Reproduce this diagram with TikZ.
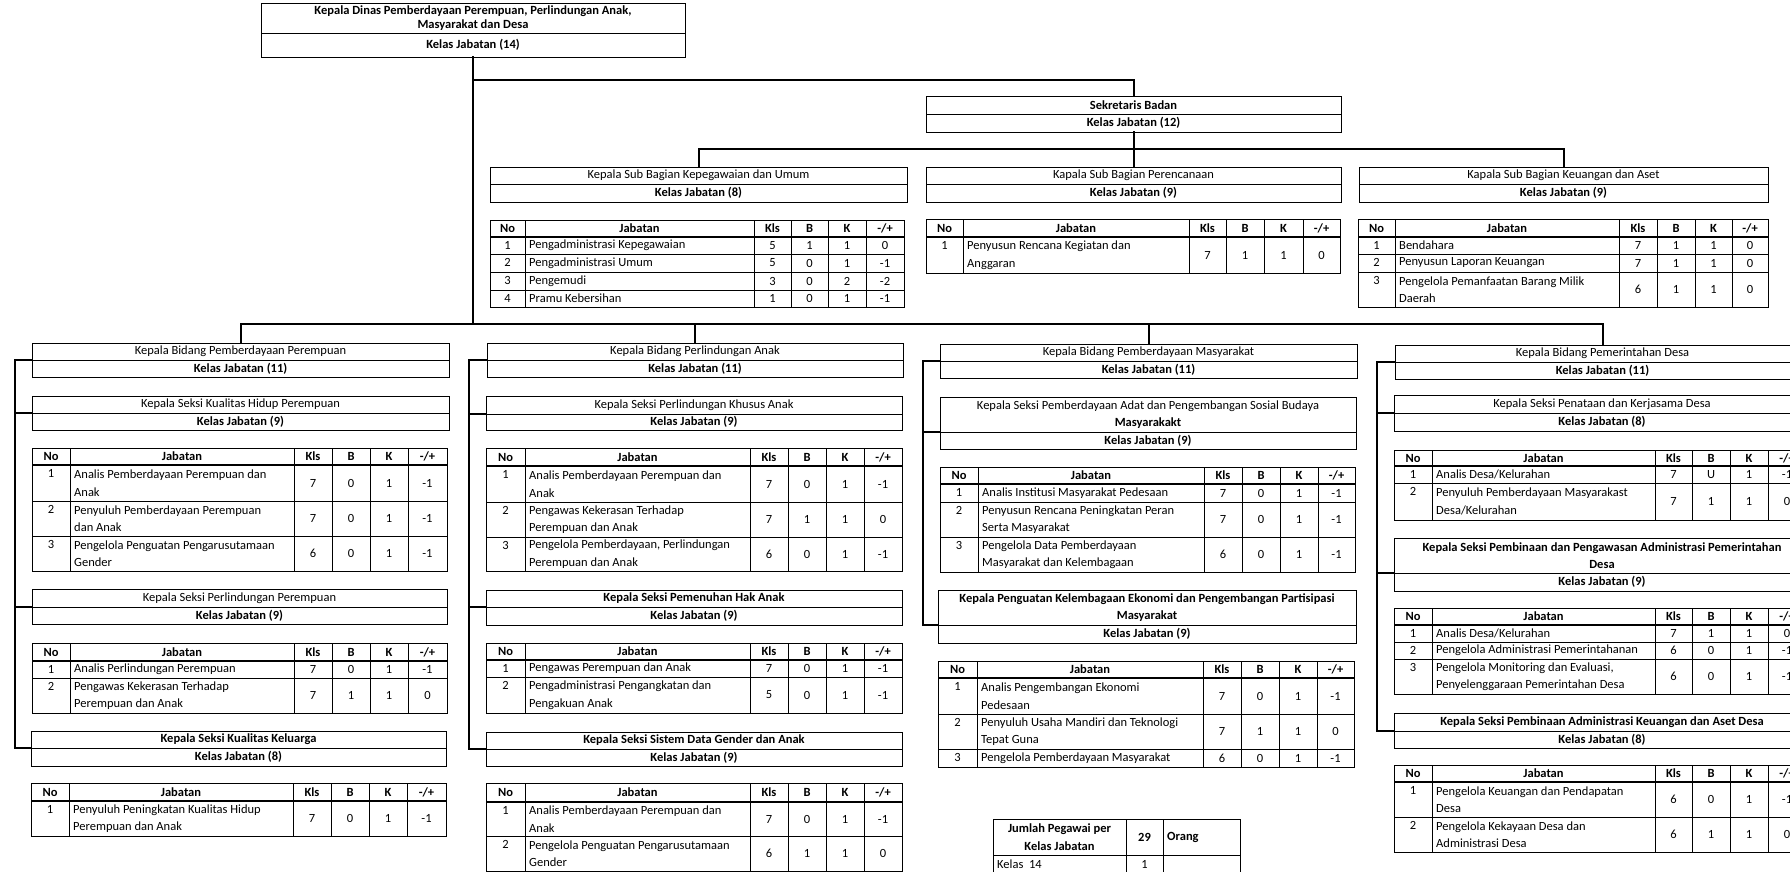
\documentclass[tikz,border=0pt]{standalone}
\usepackage{fontspec}
\setmainfont{Carlito}
\newcount\cellno
\newcommand\fs{\fontsize{12.5}{17.5}\selectfont}
\tikzset{
  conn/.style={line width=2pt,line cap=rect},
  tline/.style={line width=0.8pt},
  cellt/.style={inner sep=0pt,font=\fs},
  bx/.style={draw,line width=0.8pt,inner sep=0pt,align=center,font=\fs},
}
\newcommand\tbox[8]{%
  \node[bx,minimum width={#3pt-#2pt},minimum height={#5pt-#4pt}] (#1-t) at ({(#2+#3)/2},{(#4+#5)/2}) {#7};
  \node[bx,minimum width={#3pt-#2pt},minimum height={#6pt-#5pt}] (#1-k) at ({(#2+#3)/2},{(#5+#6)/2}) {#8};
}
\newcommand\cnode[3][]{\global\advance\cellno by 1 \node[cellt,#1] (c\the\cellno) at #2 {#3};}
\newcommand\setcols[7]{\def\ca{#1}\def\cb{#2}\def\cc{#3}\def\cd{#4}\def\ce{#5}\def\cf{#6}\def\cg{#7}}
\newcommand\vlines[2]{\foreach \xx in {\cb,\cc,\cd,\ce,\cf}{\draw[tline] (\xx,#1) -- (\xx,#2);}}
\newcommand\thead[2]{%
  \draw[tline] (\ca,#1) rectangle (\cg,#2);
  \draw[line width=1.5pt] (\ca,#2) -- (\cg,#2);
  \vlines{#1}{#2}%
  \cnode{({(\ca+\cb)/2},{(#1+#2)/2})}{\bfseries No}%
  \cnode{({(\cb+\cc)/2},{(#1+#2)/2})}{\bfseries Jabatan}%
  \cnode{({(\cc+\cd)/2},{(#1+#2)/2})}{\bfseries Kls}%
  \cnode{({(\cd+\ce)/2},{(#1+#2)/2})}{\bfseries B}%
  \cnode{({(\ce+\cf)/2},{(#1+#2)/2})}{\bfseries K}%
  \cnode{({(\cf+\cg)/2},{(#1+#2)/2})}{\bfseries -/+}%
}
\newcommand\trow[8]{%
  \draw[tline] (\ca,#1) rectangle (\cg,#2);
  \vlines{#1}{#2}%
  \cnode{({(\ca+\cb)/2},{#1+8.75})}{#3}%
  \cnode[anchor=west,align=left]{({\cb+4},{(#1+#2)/2})}{#4}%
  \cnode{({(\cc+\cd)/2},{(#1+#2)/2})}{#5}%
  \cnode{({(\cd+\ce)/2},{(#1+#2)/2})}{#6}%
  \cnode{({(\ce+\cf)/2},{(#1+#2)/2})}{#7}%
  \cnode{({(\cf+\cg)/2},{(#1+#2)/2})}{#8}%
}
\begin{document}
\begin{tikzpicture}[x=1pt,y=-1pt]
\useasboundingbox (0,0) rectangle (1790,871);
\fill[white] (0,0) rectangle (1790,871);
\clip (0,0) rectangle (1790,871);

% ---- top part
\tbox{kadis}{261}{685}{3}{33}{57}{\bfseries Kepala Dinas Pemberdayaan Perempuan, Perlindungan Anak,\\[-4pt]\bfseries Masyarakat dan Desa}{\bfseries Kelas Jabatan (14)}
\tbox{sek}{926}{1341}{96}{114}{132}{\bfseries Sekretaris Badan}{\bfseries Kelas Jabatan (12)}
\tbox{kep}{490}{907}{167}{184}{202}{Kepala Sub Bagian Kepegawaian dan Umum}{\bfseries Kelas Jabatan (8)}
\tbox{per}{926}{1341}{167}{184}{202}{Kapala Sub Bagian Perencanaan}{\bfseries Kelas Jabatan (9)}
\tbox{keu}{1359}{1768}{167}{184}{202}{Kapala Sub Bagian Keuangan dan Aset}{\bfseries Kelas Jabatan (9)}

\setcols{490}{525}{754}{791}{828}{866}{904}
\thead{220}{237}
\trow{237}{254}{1}{Pengadministrasi Kepegawaian}{5}{1}{1}{0}
\trow{254}{272}{2}{Pengadministrasi Umum}{5}{0}{1}{-1}
\trow{272}{290}{3}{Pengemudi}{3}{0}{2}{-2}
\trow{290}{307}{4}{Pramu Kebersihan}{1}{0}{1}{-1}

\setcols{926}{963}{1189}{1226}{1264}{1303}{1340}
\thead{219}{237}
\trow{237}{273}{1}{Penyusun Rencana Kegiatan dan\\Anggaran}{7}{1}{1}{0}

\setcols{1358}{1395}{1619}{1657}{1695}{1732}{1768}
\thead{219}{237}
\trow{237}{254}{1}{Bendahara}{7}{1}{1}{0}
\trow{254}{272}{2}{Penyusun Laporan Keuangan}{7}{1}{1}{0}
\trow{272}{307}{3}{Pengelola Pemanfaatan Barang Milik\\Daerah}{6}{1}{1}{0}

% ---- column 1
\tbox{bid1}{32}{449}{343}{360}{377}{Kepala Bidang Pemberdayaan Perempuan}{\bfseries Kelas Jabatan (11)}
\tbox{s11}{32}{449}{396}{413}{430}{Kepala Seksi Kualitas Hidup Perempuan}{\bfseries Kelas Jabatan (9)}
\setcols{32}{70}{294}{332}{370}{408}{447}
\thead{448}{465}
\trow{465}{501}{1}{Analis Pemberdayaan Perempuan dan\\Anak}{7}{0}{1}{-1}
\trow{501}{536}{2}{Penyuluh Pemberdayaan Perempuan\\dan Anak}{7}{0}{1}{-1}
\trow{536}{571}{3}{Pengelola Penguatan Pengarusutamaan\\Gender}{6}{0}{1}{-1}
\tbox{s12}{32}{447}{589}{607}{624}{Kepala Seksi Perlindungan Perempuan}{\bfseries Kelas Jabatan (9)}
\thead{643}{661}
\trow{661}{678}{1}{Analis Perlindungan Perempuan}{7}{0}{1}{-1}
\trow{678}{713}{2}{Pengawas Kekerasan Terhadap\\Perempuan dan Anak}{7}{1}{1}{0}
\tbox{s13}{31}{446}{731}{748}{766}{\bfseries Kepala Seksi Kualitas Keluarga}{\bfseries Kelas Jabatan (8)}
\setcols{31}{69}{293}{331}{369}{407}{446}
\thead{783}{801}
\trow{801}{836}{1}{Penyuluh Peningkatan Kualitas Hidup\\Perempuan dan Anak}{7}{0}{1}{-1}

% ---- column 2
\tbox{bid2}{487}{903}{343}{360}{377}{Kepala Bidang Perlindungan Anak}{\bfseries Kelas Jabatan (11)}
\tbox{s21}{486}{902}{396}{414}{430}{Kepala Seksi Perlindungan Khusus Anak}{\bfseries Kelas Jabatan (9)}
\setcols{486}{525}{750}{788}{826}{864}{902}
\thead{448}{466}
\trow{466}{502}{1}{Analis Pemberdayaan Perempuan dan\\Anak}{7}{0}{1}{-1}
\trow{502}{537}{2}{Pengawas Kekerasan Terhadap\\Perempuan dan Anak}{7}{1}{1}{0}
\trow{537}{571}{3}{Pengelola Pemberdayaan, Perlindungan\\Perempuan dan Anak}{6}{0}{1}{-1}
\tbox{s22}{486}{902}{590}{607}{625}{\bfseries Kepala Seksi Pemenuhan Hak Anak}{\bfseries Kelas Jabatan (9)}
\thead{643}{660}
\trow{660}{677}{1}{Pengawas Perempuan dan Anak}{7}{0}{1}{-1}
\trow{677}{713}{2}{Pengadministrasi Pengangkatan dan\\Pengakuan Anak}{5}{0}{1}{-1}
\tbox{s23}{486}{902}{732}{749}{766}{\bfseries Kepala Seksi Sistem Data Gender dan Anak}{\bfseries Kelas Jabatan (9)}
\thead{783}{802}
\trow{802}{836}{1}{Analis Pemberdayaan Perempuan dan\\Anak}{7}{0}{1}{-1}
\trow{836}{871}{2}{Pengelola Penguatan Pengarusutamaan\\Gender}{6}{1}{1}{0}

% ---- column 3
\tbox{bid3}{940}{1357}{344}{361}{378}{Kepala Bidang Pemberdayaan Masyarakat}{\bfseries Kelas Jabatan (11)}
\tbox{s31}{940}{1356}{397}{432}{449}{Kepala Seksi Pemberdayaan Adat dan Pengembangan Sosial Budaya\\\bfseries Masyarakakt}{\bfseries Kelas Jabatan (9)}
\setcols{940}{978}{1204}{1242}{1280}{1318}{1355}
\thead{467}{484}
\trow{484}{502}{1}{Analis Institusi Masyarakat Pedesaan}{7}{0}{1}{-1}
\trow{502}{537}{2}{Penyusun Rencana Peningkatan Peran\\Serta Masyarakat}{7}{0}{1}{-1}
\trow{537}{572}{3}{Pengelola Data Pemberdayaan\\Masyarakat dan Kelembagaan}{6}{0}{1}{-1}
\tbox{s32}{938}{1356}{590}{625}{643}{\bfseries Kepala Penguatan Kelembagaan Ekonomi dan Pengembangan Partisipasi\\\bfseries Masyarakat}{\bfseries Kelas Jabatan (9)}
\setcols{938}{977}{1203}{1241}{1279}{1317}{1354}
\thead{661}{678}
\trow{678}{714}{1}{Analis Pengembangan Ekonomi\\Pedesaan}{7}{0}{1}{-1}
\trow{714}{749}{2}{Penyuluh Usaha Mandiri dan Teknologi\\Tepat Guna}{7}{1}{1}{0}
\trow{749}{767}{3}{Pengelola Pemberdayaan Masyarakat}{6}{0}{1}{-1}

% summary table
\draw[tline] (993,819) rectangle (1240,872);
\draw[tline] (993,855) -- (1240,855);
\draw[tline] (1126,819) -- (1126,872);
\draw[tline] (1163,819) -- (1163,872);
\cnode[align=center]{({(993+1126)/2},837)}{\bfseries Jumlah Pegawai per\\\bfseries Kelas Jabatan}
\cnode{({(1126+1163)/2},837)}{\bfseries 29}
\cnode[anchor=west]{(1167,837)}{\bfseries Orang}
\cnode[anchor=west]{(997,864)}{Kelas\ \ 14}
\cnode{({(1126+1163)/2},864)}{1}

% ---- column 4
\tbox{bid4}{1395}{1810}{345}{362}{379}{Kepala Bidang Pemerintahan Desa}{\bfseries Kelas Jabatan (11)}
\tbox{s41}{1394}{1810}{395}{413}{431}{Kepala Seksi Penataan dan Kerjasama Desa}{\bfseries Kelas Jabatan (8)}
\setcols{1394}{1432}{1655}{1692}{1730}{1768}{1806}
\thead{450}{466}
\trow{466}{483}{1}{Analis Desa/Kelurahan}{7}{U}{1}{-1}
\trow{483}{520}{2}{Penyuluh Pemberdayaan Masyarakast\\Desa/Kelurahan}{7}{1}{1}{0}
\tbox{s42}{1394}{1810}{538}{573}{591}{\bfseries Kepala Seksi Pembinaan dan Pengawasan Administrasi Pemerintahan\\\bfseries Desa}{\bfseries Kelas Jabatan (9)}
\thead{608}{625}
\trow{625}{642}{1}{Analis Desa/Kelurahan}{7}{1}{1}{0}
\trow{642}{659}{2}{Pengelola Administrasi Pemerintahanan}{6}{0}{1}{-1}
\trow{659}{694}{3}{Pengelola Monitoring dan Evaluasi,\\Penyelenggaraan Pemerintahan Desa}{6}{0}{1}{-1}
\tbox{s43}{1394}{1810}{713}{731}{748}{\bfseries Kepala Seksi Pembinaan Administrasi Keuangan dan Aset Desa}{\bfseries Kelas Jabatan (8)}
\thead{765}{782}
\trow{782}{817}{1}{Pengelola Keuangan dan Pendapatan\\Desa}{6}{0}{1}{-1}
\trow{817}{852}{2}{Pengelola Kekayaan Desa dan\\Administrasi Desa}{6}{1}{1}{0}

% ---- connectors
\coordinate (y80) at (0,80);
\coordinate (ysb) at (0,149);
\coordinate (ybus) at (0,324);
\coordinate (sp1) at (15,0);
\coordinate (sp2) at (469,0);
\coordinate (sp3) at (923,0);
\coordinate (sp4) at (1377,0);

\draw[conn] (kadis-k.south) -- (kadis-k.south |- ybus);
\draw[conn] (kadis-k.south |- y80) -| (sek-t.north);
\draw[conn] (sek-k.south) -- (per-t.north);
\draw[conn] (kep-t.north) -- (kep-t.north |- ysb) -- (keu-t.north |- ysb) -- (keu-t.north);
\draw[conn] (bid1-t.north) -- (bid1-t.north |- ybus) -- (bid4-t.north |- ybus) -- (bid4-t.north);
\draw[conn] (bid2-t.north |- ybus) -- (bid2-t.north);
\draw[conn] (bid3-t.north |- ybus) -- (bid3-t.north);

\draw[conn] (bid1-t.south west) -- (bid1-t.south west -| sp1) |- (s13-t.south west);
\draw[conn] (s11-t.south west -| sp1) -- (s11-t.south west);
\draw[conn] (s12-t.south west -| sp1) -- (s12-t.south west);

\draw[conn] (bid2-t.south west) -- (bid2-t.south west -| sp2) |- (s23-t.south west);
\draw[conn] (s21-t.south west -| sp2) -- (s21-t.south west);
\draw[conn] (s22-t.south west -| sp2) -- (s22-t.south west);

\draw[conn] (bid3-t.south west) -- (bid3-t.south west -| sp3) |- (s32-t.south west);
\draw[conn] (s31-t.south west -| sp3) -- (s31-t.south west);

\draw[conn] (bid4-t.south west) -- (bid4-t.south west -| sp4) |- (s43-t.south west);
\draw[conn] (s41-t.south west -| sp4) -- (s41-t.south west);
\draw[conn] (s42-t.south west -| sp4) -- (s42-t.south west);
\end{tikzpicture}
\end{document}
